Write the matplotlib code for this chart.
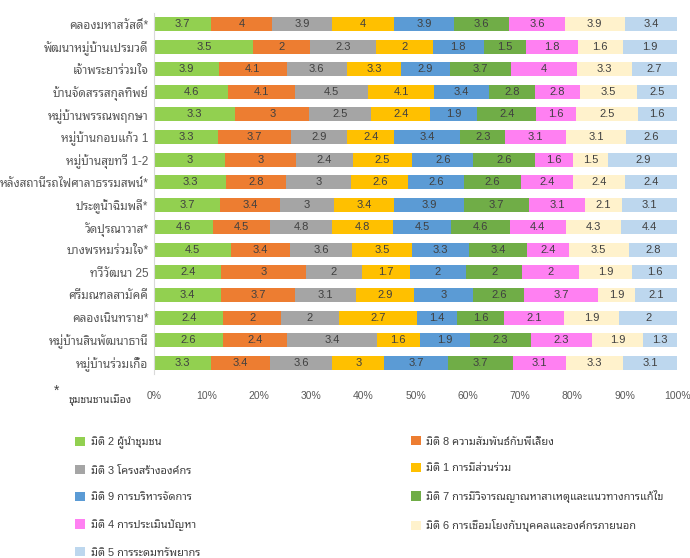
import numpy as np
import matplotlib
matplotlib.use("Agg")
import matplotlib.pyplot as plt

plt.rcParams['font.family'] = ['Liberation Sans', 'Noto Sans Thai Looped', 'DejaVu Sans']

# ชุมชน (top to bottom)
communities = [
    "คลองมหาสวัสดิ์*",
    "พัฒนาหมู่บ้านเปรมวดี",
    "เจ้าพระยาร่วมใจ",
    "บ้านจัดสรรสกุลทิพย์",
    "หมู่บ้านพรรณพฤกษา",
    "หมู่บ้านกอบแก้ว 1",
    "หมู่บ้านสุขทวี 1-2",
    "หลังสถานีรถไฟศาลาธรรมสพน์*",
    "ประตูน้ำฉิมพลี*",
    "วัดปุรณาวาส*",
    "บางพรหมร่วมใจ*",
    "ทวีวัฒนา 25",
    "ศรีมณฑลสามัคคี",
    "คลองเนินทราย*",
    "หมู่บ้านสินพัฒนาธานี",
    "หมู่บ้านร่วมเกื้อ",
]

# มิติ (stack order)
dimensions = [
    "มิติ 2 ผู้นำชุมชน",
    "มิติ 8 ความสัมพันธ์กับพี่เลี้ยง",
    "มิติ 3 โครงสร้างองค์กร",
    "มิติ 1 การมีส่วนร่วม",
    "มิติ 9 การบริหารจัดการ",
    "มิติ 7 การมีวิจารณญาณหาสาเหตุและแนวทางการแก้ไข",
    "มิติ 4 การประเมินปัญหา",
    "มิติ 6 การเชื่อมโยงกับบุคคลและองค์กรภายนอก",
    "มิติ 5 การระดมทรัพยากร",
]
colors = ["#92D050", "#ED7D31", "#A5A5A5", "#FFC000", "#5B9BD5",
          "#70AD47", "#FF80F2", "#FFF2CC", "#BDD7EE"]

# scores per community, one column per dimension
scores = [
    [3.7, 4.0, 3.9, 4.0, 3.9, 3.6, 3.6, 3.9, 3.4],
    [3.5, 2.0, 2.3, 2.0, 1.8, 1.5, 1.8, 1.6, 1.9],
    [3.9, 4.1, 3.6, 3.3, 2.9, 3.7, 4.0, 3.3, 2.7],
    [4.6, 4.1, 4.5, 4.1, 3.4, 2.8, 2.8, 3.5, 2.5],
    [3.3, 3.0, 2.5, 2.4, 1.9, 2.4, 1.6, 2.5, 1.6],
    [3.3, 3.7, 2.9, 2.4, 3.4, 2.3, 3.1, 3.1, 2.6],
    [3.0, 3.0, 2.4, 2.5, 2.6, 2.6, 1.6, 1.5, 2.9],
    [3.3, 2.8, 3.0, 2.6, 2.6, 2.6, 2.4, 2.4, 2.4],
    [3.7, 3.4, 3.0, 3.4, 3.9, 3.7, 3.1, 2.1, 3.1],
    [4.6, 4.5, 4.8, 4.8, 4.5, 4.6, 4.4, 4.3, 4.4],
    [4.5, 3.4, 3.6, 3.5, 3.3, 3.4, 2.4, 3.5, 2.8],
    [2.4, 3.0, 2.0, 1.7, 2.0, 2.0, 2.0, 1.9, 1.6],
    [3.4, 3.7, 3.1, 2.9, 3.0, 2.6, 3.7, 1.9, 2.1],
    [2.4, 2.0, 2.0, 2.7, 1.4, 1.6, 2.1, 1.9, 2.0],
    [2.6, 2.4, 3.4, 1.6, 1.9, 2.3, 2.3, 1.9, 1.3],
    [3.3, 3.4, 3.6, 3.0, 3.7, 3.7, 3.1, 3.3, 3.1],
]

data = np.array(scores)
share = data / data.sum(axis=1, keepdims=True)
ypos = np.arange(len(communities))

fig = plt.figure(figsize=(6.9, 5.58), dpi=100)
ax = fig.add_axes([0.2232, 0.3297, 0.758, 0.6475])

left = np.zeros(len(communities))
handles = []
for j, name in enumerate(dimensions):
    bars = ax.barh(ypos, share[:, j], left=left, height=0.62,
                   color=colors[j], label=name)
    handles.append(bars)
    for i, v in enumerate(data[:, j]):
        ax.text(left[i] + share[i, j] / 2, ypos[i], f"{v:g}",
                ha='center', va='center', fontsize=8, color='#404040')
    left += share[:, j]

ax.set_xlim(0, 1)
ax.set_ylim(len(communities) - 0.5, -0.5)
ax.set_xticks(np.arange(0, 1.01, 0.1))
ax.set_xticklabels([f"{int(round(t * 100))}%" for t in np.arange(0, 1.01, 0.1)])
ax.set_yticks(ypos)
ax.set_yticklabels(communities)
ax.tick_params(axis='both', length=0, labelsize=7.5, colors='#595959')
ax.tick_params(axis='y', labelsize=8.5, pad=4)
ax.tick_params(axis='x', pad=12)
for s in ['top', 'right', 'bottom']:
    ax.spines[s].set_visible(False)
ax.spines['left'].set_color('#D9D9D9')

fig.text(0.082, 0.300, "*", fontsize=10, color='#404040', ha='center', va='center')
fig.text(0.099, 0.283, "ชุมชนชานเมือง", fontsize=7.5, color='#404040', ha='left', va='center')

# two-column legend, filled row by row
col1 = [handles[k] for k in (0, 2, 4, 6, 8)]
col2 = [handles[k] for k in (1, 3, 5, 7)]
common = dict(frameon=False, fontsize=7.9, handlelength=0.9, handleheight=0.9,
              handletextpad=0.5, labelspacing=1.5, loc='upper left',
              labelcolor='#404040')
fig.legend(col1, [dimensions[k] for k in (0, 2, 4, 6, 8)],
           bbox_to_anchor=(0.095, 0.236), **common)
fig.legend(col2, [dimensions[k] for k in (1, 3, 5, 7)],
           bbox_to_anchor=(0.581, 0.236), **common)

fig.savefig("out.png", dpi=100)
